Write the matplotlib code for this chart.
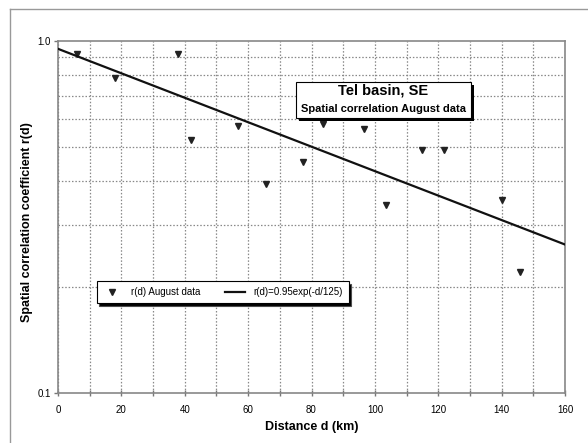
import numpy as np
import matplotlib
matplotlib.use("Agg")
import matplotlib.pyplot as plt
from matplotlib.patches import Rectangle
from matplotlib.lines import Line2D

plt.rcParams['font.family'] = ['Liberation Sans', 'DejaVu Sans']

dist = [5.9, 18.0, 37.9, 41.9, 56.9, 65.5, 77.4, 83.7, 96.5, 103.5, 114.8, 121.7, 140.0, 145.7]
corr = [0.917, 0.783, 0.917, 0.523, 0.573, 0.392, 0.452, 0.581, 0.562, 0.342, 0.491, 0.491, 0.353, 0.221]

# fitted model r(d) = r0 * exp(-d / d0)
r0 = 0.95
d0 = 125.0
d_fit = np.linspace(0, 160, 200)
r_fit = r0 * np.exp(-d_fit / d0)

x_major = [0, 20, 40, 60, 80, 100, 120, 140, 160]
x_minor = [10, 30, 50, 70, 90, 110, 130, 150]
y_major = [0.1, 1.0]
y_major_labels = ["0.1", "1.0"]
y_minor = [0.2, 0.3, 0.4, 0.5, 0.6, 0.7, 0.8, 0.9]

fig = plt.figure(figsize=(5.88, 4.43), dpi=100)
ax = fig.add_axes([58 / 588, 1 - 393 / 443, 507 / 588, 352 / 443])

ax.plot(dist, corr, linestyle='none', marker='v', color='#222222',
        markersize=4, label='r(d) August data', zorder=3)
ax.plot(d_fit, r_fit, color='#111111', lw=1.6, label='r(d)=0.95exp(-d/125)', zorder=3)

ax.set_yscale('log')
ax.set_xlim(0, 160)
ax.set_ylim(0.1, 1.0)

ax.set_xticks(x_major)
ax.set_xticks(x_minor, minor=True)
ax.set_yticks(y_major)
ax.set_yticklabels(y_major_labels)
ax.set_yticks(y_minor, minor=True)
ax.yaxis.set_minor_formatter(matplotlib.ticker.NullFormatter())

ax.tick_params(axis='x', which='both', direction='inout', length=5, width=1,
               color='#777777', labelsize=7, pad=6)
ax.tick_params(axis='y', which='major', direction='out', length=3, width=1,
               color='#777777', labelsize=7, pad=2)
ax.tick_params(axis='y', which='minor', length=0)

ax.grid(True, axis='x', which='both', linestyle=(0, (1.2, 1.5)), color='#888888', lw=0.9)
ax.grid(True, axis='y', which='minor', linestyle=(0, (1.2, 1.5)), color='#888888', lw=0.9)

for s in ax.spines.values():
    s.set_color('#888888')
    s.set_linewidth(1.2)

ax.set_xlabel('Distance d (km)', fontsize=9, fontweight='bold')
ax.xaxis.set_label_coords(0.5, -0.08)
ax.set_ylabel('Spatial correlation coefficient r(d)', fontsize=9, fontweight='bold')
ax.yaxis.set_label_coords(-0.049, 0.485)

leg = ax.legend(loc='lower left', bbox_to_anchor=(0.076, 0.256), borderaxespad=0,
                ncol=2, fontsize=7, frameon=True, fancybox=False,
                edgecolor='black', framealpha=1, handlelength=2.0,
                columnspacing=2.6, handletextpad=0.9, borderpad=0.6,
                shadow={'facecolor': 'black', 'alpha': 1})
leg.get_frame().set_linewidth(0.8)
leg.set_zorder(5)

# title box with shadow
bx0, bx1 = 0.469, 0.815
by0, by1 = 0.781, 0.884
ax.add_patch(Rectangle((bx0 + 0.006, by0 - 0.009), bx1 - bx0, by1 - by0,
                       transform=ax.transAxes, facecolor='black', edgecolor='none', zorder=6))
ax.add_patch(Rectangle((bx0, by0), bx1 - bx0, by1 - by0, transform=ax.transAxes,
                       facecolor='white', edgecolor='black', lw=0.8, zorder=7))
ax.text((bx0 + bx1) / 2, 0.859, 'Tel basin, SE', transform=ax.transAxes,
        ha='center', va='center', fontsize=10.5, fontweight='bold', zorder=8)
ax.text((bx0 + bx1) / 2, 0.806, 'Spatial correlation August data', transform=ax.transAxes,
        ha='center', va='center', fontsize=8, fontweight='bold', zorder=8)

# outer frame lines (top and left)
fig.add_artist(Line2D([9.5 / 588, 1], [1 - 8.5 / 443, 1 - 8.5 / 443],
                      transform=fig.transFigure, color='#999999', lw=1))
fig.add_artist(Line2D([9.5 / 588, 9.5 / 588], [0, 1 - 8.5 / 443],
                      transform=fig.transFigure, color='#999999', lw=1))

fig.savefig('out.png', dpi=100)
